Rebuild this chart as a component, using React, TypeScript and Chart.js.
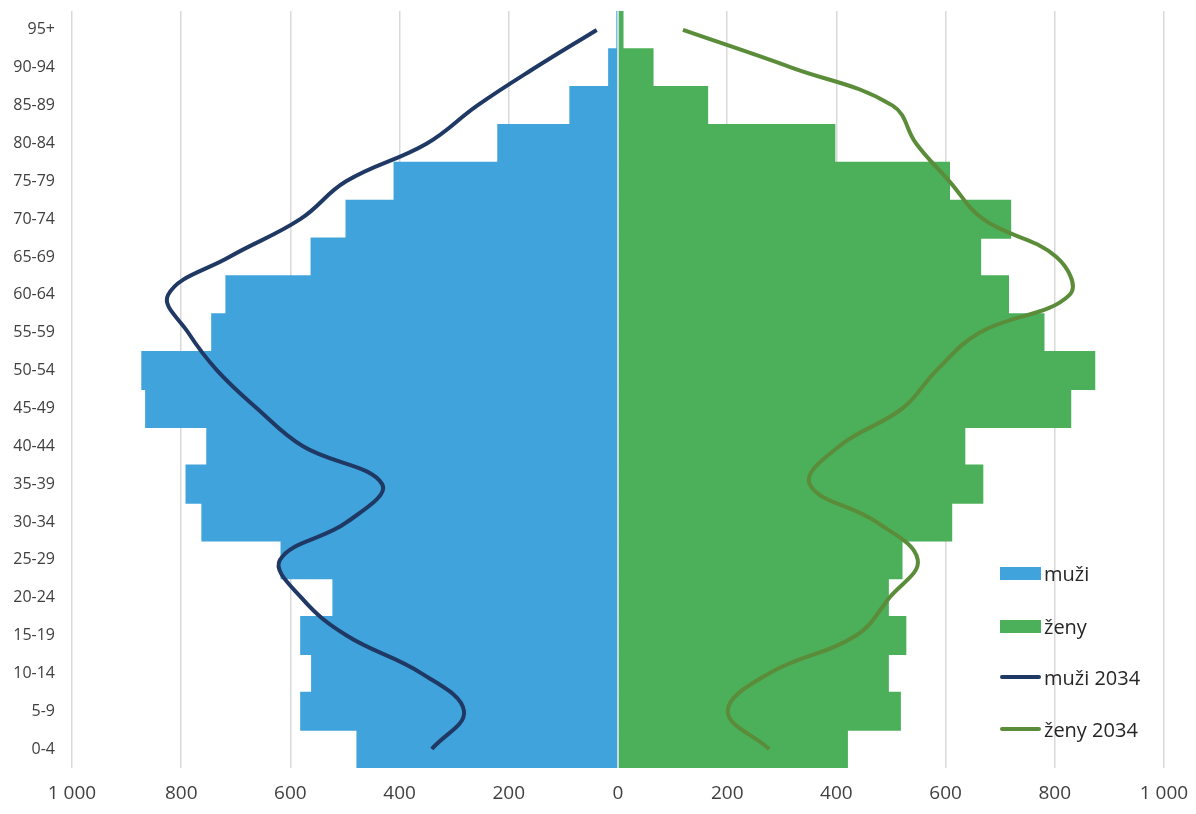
import { useEffect, useRef } from "react";
import { Chart, registerables } from "chart.js";

Chart.register(...registerables);

const ageGroups = [
  "0-4", "5-9", "10-14", "15-19", "20-24", "25-29", "30-34", "35-39", "40-44", "45-49",
  "50-54", "55-59", "60-64", "65-69", "70-74", "75-79", "80-84", "85-89", "90-94", "95+",
];
const men = [478, 581, 561, 581, 522, 617, 762, 791, 753, 865, 872, 744, 718, 562, 498, 410, 220, 88, 17, 2];
const women = [420, 517, 495, 527, 495, 520, 611, 668, 635, 829, 873, 780, 715, 664, 719, 607, 397, 164, 64, 9];
const men2034 = [341, 282, 360, 497, 580, 619, 496, 432, 577, 661, 734, 787, 824, 712, 582, 498, 350, 258, 152, 39];
const women2034 = [277, 201, 277, 436, 497, 549, 473, 351, 405, 521, 583, 662, 827, 803, 669, 607, 546, 503, 319, 119];

const seriesNames = ["muži", "ženy", "muži 2034", "ženy 2034"];
const seriesColors = ["#41A3DC", "#4CAF5A", "#1F3864", "#5B8C3A"];
const xMin = -1000;
const xMax = 1000;
const xStep = 200;

const FONT = "'Open Sans', sans-serif";

function fmt(v: number): string {
  const a = Math.abs(v);
  return String(a).replace(/\B(?=(\d{3})+(?!\d))/g, " ");
}

const zeroLinePlugin = {
  id: "zeroLine",
  afterDatasetsDraw(chart: any) {
    const x = chart.scales.x.getPixelForValue(0);
    const { top, bottom } = chart.chartArea;
    const ctx = chart.ctx;
    ctx.save();
    ctx.strokeStyle = "#e6edf2";
    ctx.lineWidth = 1.5;
    ctx.beginPath();
    ctx.moveTo(x, top);
    ctx.lineTo(x, bottom);
    ctx.stroke();
    ctx.restore();
  },
};

export default function App() {
  const canvasRef = useRef<HTMLCanvasElement | null>(null);

  useEffect(() => {
    if (!canvasRef.current) return;
    const chart = new Chart(canvasRef.current, {
      type: "bar",
      data: {
        labels: ageGroups,
        datasets: [
          {
            type: "line",
            label: seriesNames[2],
            data: men2034.map((v) => -v),
            borderColor: seriesColors[2],
            borderWidth: 4,
            pointRadius: 0,
            tension: 0.4,
            order: 0,
          } as any,
          {
            type: "line",
            label: seriesNames[3],
            data: women2034,
            borderColor: seriesColors[3],
            borderWidth: 4,
            pointRadius: 0,
            tension: 0.4,
            order: 0,
          } as any,
          {
            type: "bar",
            label: seriesNames[0],
            data: men.map((v) => -v),
            backgroundColor: seriesColors[0],
            borderWidth: 0,
            grouped: false,
            barPercentage: 1,
            categoryPercentage: 1,
            inflateAmount: 0.6,
            order: 1,
          } as any,
          {
            type: "bar",
            label: seriesNames[1],
            data: women,
            backgroundColor: seriesColors[1],
            borderWidth: 0,
            grouped: false,
            barPercentage: 1,
            categoryPercentage: 1,
            inflateAmount: 0.6,
            order: 1,
          } as any,
        ],
      },
      options: {
        indexAxis: "y",
        animation: false,
        responsive: true,
        maintainAspectRatio: false,
        layout: { padding: { top: 11, right: 32, left: 0, bottom: 0 } },
        plugins: {
          legend: { display: false },
          tooltip: { enabled: false },
        },
        scales: {
          x: {
            type: "linear",
            min: xMin,
            max: xMax,
            grid: { color: "#d9d9d9", lineWidth: 1.5, drawTicks: false },
            border: { display: false },
            ticks: {
              stepSize: xStep,
              callback: (v: any) => fmt(Number(v)),
              font: { family: FONT, size: 19 },
              color: "#404040",
              padding: 14,
              maxRotation: 0,
            },
            afterFit: (s: any) => {
              s.height = 46;
              s.paddingLeft = 0;
              s.paddingRight = 0;
            },
          },
          y: {
            type: "category",
            reverse: true,
            grid: { display: false, drawTicks: false },
            border: { display: false },
            ticks: {
              font: { family: FONT, size: 16 },
              color: "#404040",
              padding: 17,
            },
            afterFit: (s: any) => {
              s.width = 72;
              s.paddingTop = 0;
              s.paddingBottom = 0;
            },
          },
        },
      } as any,
      plugins: [zeroLinePlugin],
    });
    return () => chart.destroy();
  }, []);

  const legendTops = [573, 626, 677, 729];

  return (
    <div style={{ position: "absolute", left: 0, top: 0, width: 1196, height: 814, background: "#fff" }}>
      <canvas ref={canvasRef} />
      {seriesNames.map((name, i) => (
        <div
          key={name}
          style={{
            position: "absolute",
            left: 1000,
            top: legendTops[i] - 14,
            height: 28,
            display: "flex",
            alignItems: "center",
            fontFamily: FONT,
            fontSize: 20,
            color: "#262626",
            whiteSpace: "nowrap",
          }}
        >
          <span
            style={{
              display: "inline-block",
              width: 41,
              height: i < 2 ? 13 : 4,
              borderRadius: i < 2 ? 0 : 2,
              background: seriesColors[i],
              marginRight: 3,
            }}
          />
          <span>{name}</span>
        </div>
      ))}
    </div>
  );
}
